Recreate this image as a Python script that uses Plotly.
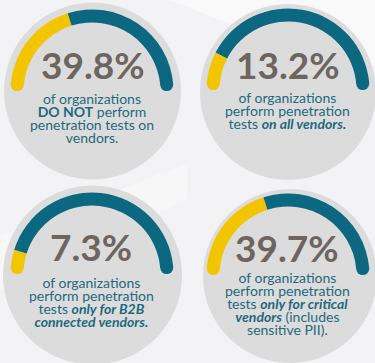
import math
import plotly.graph_objects as go

# ---------------- data ----------------
values = [39.8, 13.2, 7.3, 39.7]
descriptions = [
    ["of organizations", "<b>DO NOT</b> perform", "penetration tests on", "vendors."],
    ["of organizations", "perform penetration", "tests <b><i>on all vendors.</i></b>"],
    ["of organizations", "perform penetration", "tests <b><i>only for B2B</i></b>",
     "<b><i>connected vendors.</i></b>"],
    ["of organizations", "perform penetration", "tests <b><i>only for critical</i></b>",
     "<b><i>vendors</i></b> (includes", "sensitive PII)."],
]

# ---------------- layout / style ----------------
W, H = 375, 363
YELLOW = "#f2c500"
TEAL = "#0c6880"
NUM_COLOR = "#6d6560"
TEXT_COLOR = "#1e6a7e"
CIRCLE_FILL = "#dddcdc"
BG = "#f3f3f5"

circles = [(92.5, 91, 88.5), (288, 92, 88), (92.5, 275, 89.5), (290, 276, 87)]
gauge_centers = [(92, 91), (288, 90), (92, 274), (288, 275)]
num_centers_x = [93, 288, 91, 287]
num_baselines = [80, 80, 262, 263]
text_centers_x = [92, 287, 91, 287]
text_first_baseline = [103.5, 102.7, 287, 282.7]
ARC_R = 75.0      # centerline radius (px)
ARC_W = 13.0      # band thickness (px)
PAD = 2.9         # axis padding so rounded caps fit inside the half circle


def px(x):
    return x / W


def py(y):
    return 1 - y / H


fig = go.Figure()
shapes = []
annotations = []

# background light streaks
shapes.append(dict(type="path", path="M 0.45 1 L 1 1 L 1 0.82 L 0.7 0.9 Z",
                   xref="paper", yref="paper", fillcolor="white", opacity=0.5,
                   line=dict(width=0), layer="below"))
shapes.append(dict(type="path", path="M 0 0.35 L 0.5 0.55 L 0.5 0.45 L 0 0.2 Z",
                   xref="paper", yref="paper", fillcolor="white", opacity=0.35,
                   line=dict(width=0), layer="below"))

for (cx, cy, r) in circles:
    shapes.append(dict(type="circle", xref="paper", yref="paper",
                       x0=px(cx - r), x1=px(cx + r), y0=py(cy + r), y1=py(cy - r),
                       fillcolor=CIRCLE_FILL, line=dict(width=0), layer="below"))

R_outer = ARC_R / 0.875
thick = ARC_W / (0.25 * R_outer)
theta0 = PAD / (100 + 2 * PAD) * math.pi

for i, v in enumerate(values):
    gx, gy = gauge_centers[i]
    fig.add_trace(go.Indicator(
        mode="gauge",
        value=v,
        domain=dict(x=[px(gx - R_outer), px(gx + R_outer)],
                    y=[py(gy), py(gy - R_outer)]),
        gauge=dict(
            shape="angular",
            axis=dict(range=[-PAD, 100 + PAD], visible=False),
            bar=dict(color="rgba(0,0,0,0)", thickness=0, line=dict(width=0)),
            bgcolor="rgba(0,0,0,0)",
            borderwidth=0,
            steps=[dict(range=[0, v], color=YELLOW, thickness=thick, line=dict(width=0)),
                   dict(range=[v, 100], color=TEAL, thickness=thick, line=dict(width=0))],
        ),
    ))
    # rounded caps
    for sgn, col in [(-1, YELLOW), (1, TEAL)]:
        ccx = gx + sgn * ARC_R * math.cos(theta0)
        ccy = gy - ARC_R * math.sin(theta0)
        rr = ARC_W / 2
        shapes.append(dict(type="circle", xref="paper", yref="paper",
                           x0=px(ccx - rr), x1=px(ccx + rr), y0=py(ccy + rr), y1=py(ccy - rr),
                           fillcolor=col, line=dict(width=0), layer="above"))
    # number
    annotations.append(dict(text=f"<b>{v}%</b>", x=px(num_centers_x[i]),
                            y=py(num_baselines[i] - 16),
                            xref="paper", yref="paper", xanchor="center", yanchor="middle",
                            showarrow=False,
                            font=dict(family="Lato", size=37, color=NUM_COLOR)))
    # description (tight line spacing: 10px base font -> 13px line pitch, 14px glyphs)
    body = "<br>".join(f"<span style='font-size:14px'>{ln}</span>" for ln in descriptions[i])
    annotations.append(dict(text=body, x=px(text_centers_x[i]),
                            y=py(text_first_baseline[i] - 15.5),
                            xref="paper", yref="paper", xanchor="center", yanchor="top",
                            align="center", showarrow=False,
                            font=dict(family="Lato", size=10, color=TEXT_COLOR)))

fig.update_layout(
    width=W, height=H,
    margin=dict(l=0, r=0, t=0, b=0),
    paper_bgcolor=BG, plot_bgcolor=BG,
    shapes=shapes, annotations=annotations,
    showlegend=False,
)
fig.write_html("out.html", config={"displayModeBar": False},
               post_script="document.body.style.margin='0px';"
                           "document.body.style.overflow='hidden';")
